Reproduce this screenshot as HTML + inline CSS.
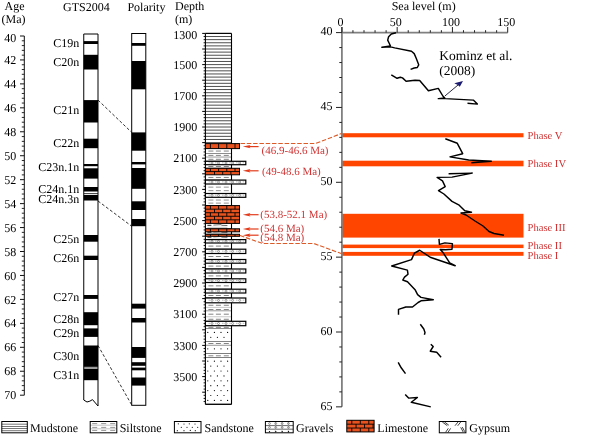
<!DOCTYPE html>
<html><head><meta charset="utf-8"><title>Eocene sea level and lithology figure</title>
<style>
html,body{margin:0;padding:0;background:#fff;}
body{width:600px;height:445px;overflow:hidden;}
svg{display:block;font-family:"Liberation Serif",serif;text-rendering:geometricPrecision;-webkit-font-smoothing:antialiased;will-change:transform;}
</style></head>
<body>
<svg width="600" height="445" viewBox="0 0 600 445">
<rect x="0" y="0" width="600" height="445" fill="#fff"/>
<text x="4.5" y="9.5" font-size="12" text-anchor="start" fill="#000">Age</text>
<text x="1.5" y="22.5" font-size="12" text-anchor="start" fill="#000">(Ma)</text>
<text x="63" y="10.5" font-size="12" text-anchor="start" fill="#000">GTS2004</text>
<text x="127.4" y="10.5" font-size="12" text-anchor="start" fill="#000">Polarity</text>
<text x="175" y="9.5" font-size="12" text-anchor="start" fill="#000">Depth</text>
<text x="175" y="22.5" font-size="12" text-anchor="start" fill="#000">(m)</text>
<text x="391.7" y="9.6" font-size="12" text-anchor="start" fill="#000">Sea level (m)</text>
<line x1="24.3" y1="36" x2="24.3" y2="395.19" stroke="#111" stroke-width="1"/>
<line x1="20" y1="36" x2="24.3" y2="36" stroke="#111" stroke-width="1"/>
<line x1="21.8" y1="40.79" x2="24.3" y2="40.79" stroke="#111" stroke-width="0.9"/>
<line x1="21.8" y1="45.58" x2="24.3" y2="45.58" stroke="#111" stroke-width="0.9"/>
<line x1="21.8" y1="50.37" x2="24.3" y2="50.37" stroke="#111" stroke-width="0.9"/>
<line x1="21.8" y1="55.16" x2="24.3" y2="55.16" stroke="#111" stroke-width="0.9"/>
<line x1="20" y1="59.95" x2="24.3" y2="59.95" stroke="#111" stroke-width="1"/>
<line x1="21.8" y1="64.74" x2="24.3" y2="64.74" stroke="#111" stroke-width="0.9"/>
<line x1="21.8" y1="69.52" x2="24.3" y2="69.52" stroke="#111" stroke-width="0.9"/>
<line x1="21.8" y1="74.31" x2="24.3" y2="74.31" stroke="#111" stroke-width="0.9"/>
<line x1="21.8" y1="79.1" x2="24.3" y2="79.1" stroke="#111" stroke-width="0.9"/>
<line x1="20" y1="83.89" x2="24.3" y2="83.89" stroke="#111" stroke-width="1"/>
<line x1="21.8" y1="88.68" x2="24.3" y2="88.68" stroke="#111" stroke-width="0.9"/>
<line x1="21.8" y1="93.47" x2="24.3" y2="93.47" stroke="#111" stroke-width="0.9"/>
<line x1="21.8" y1="98.26" x2="24.3" y2="98.26" stroke="#111" stroke-width="0.9"/>
<line x1="21.8" y1="103.05" x2="24.3" y2="103.05" stroke="#111" stroke-width="0.9"/>
<line x1="20" y1="107.84" x2="24.3" y2="107.84" stroke="#111" stroke-width="1"/>
<line x1="21.8" y1="112.63" x2="24.3" y2="112.63" stroke="#111" stroke-width="0.9"/>
<line x1="21.8" y1="117.42" x2="24.3" y2="117.42" stroke="#111" stroke-width="0.9"/>
<line x1="21.8" y1="122.21" x2="24.3" y2="122.21" stroke="#111" stroke-width="0.9"/>
<line x1="21.8" y1="126.99" x2="24.3" y2="126.99" stroke="#111" stroke-width="0.9"/>
<line x1="20" y1="131.78" x2="24.3" y2="131.78" stroke="#111" stroke-width="1"/>
<line x1="21.8" y1="136.57" x2="24.3" y2="136.57" stroke="#111" stroke-width="0.9"/>
<line x1="21.8" y1="141.36" x2="24.3" y2="141.36" stroke="#111" stroke-width="0.9"/>
<line x1="21.8" y1="146.15" x2="24.3" y2="146.15" stroke="#111" stroke-width="0.9"/>
<line x1="21.8" y1="150.94" x2="24.3" y2="150.94" stroke="#111" stroke-width="0.9"/>
<line x1="20" y1="155.73" x2="24.3" y2="155.73" stroke="#111" stroke-width="1"/>
<line x1="21.8" y1="160.52" x2="24.3" y2="160.52" stroke="#111" stroke-width="0.9"/>
<line x1="21.8" y1="165.31" x2="24.3" y2="165.31" stroke="#111" stroke-width="0.9"/>
<line x1="21.8" y1="170.1" x2="24.3" y2="170.1" stroke="#111" stroke-width="0.9"/>
<line x1="21.8" y1="174.89" x2="24.3" y2="174.89" stroke="#111" stroke-width="0.9"/>
<line x1="20" y1="179.68" x2="24.3" y2="179.68" stroke="#111" stroke-width="1"/>
<line x1="21.8" y1="184.47" x2="24.3" y2="184.47" stroke="#111" stroke-width="0.9"/>
<line x1="21.8" y1="189.25" x2="24.3" y2="189.25" stroke="#111" stroke-width="0.9"/>
<line x1="21.8" y1="194.04" x2="24.3" y2="194.04" stroke="#111" stroke-width="0.9"/>
<line x1="21.8" y1="198.83" x2="24.3" y2="198.83" stroke="#111" stroke-width="0.9"/>
<line x1="20" y1="203.62" x2="24.3" y2="203.62" stroke="#111" stroke-width="1"/>
<line x1="21.8" y1="208.41" x2="24.3" y2="208.41" stroke="#111" stroke-width="0.9"/>
<line x1="21.8" y1="213.2" x2="24.3" y2="213.2" stroke="#111" stroke-width="0.9"/>
<line x1="21.8" y1="217.99" x2="24.3" y2="217.99" stroke="#111" stroke-width="0.9"/>
<line x1="21.8" y1="222.78" x2="24.3" y2="222.78" stroke="#111" stroke-width="0.9"/>
<line x1="20" y1="227.57" x2="24.3" y2="227.57" stroke="#111" stroke-width="1"/>
<line x1="21.8" y1="232.36" x2="24.3" y2="232.36" stroke="#111" stroke-width="0.9"/>
<line x1="21.8" y1="237.15" x2="24.3" y2="237.15" stroke="#111" stroke-width="0.9"/>
<line x1="21.8" y1="241.94" x2="24.3" y2="241.94" stroke="#111" stroke-width="0.9"/>
<line x1="21.8" y1="246.72" x2="24.3" y2="246.72" stroke="#111" stroke-width="0.9"/>
<line x1="20" y1="251.51" x2="24.3" y2="251.51" stroke="#111" stroke-width="1"/>
<line x1="21.8" y1="256.3" x2="24.3" y2="256.3" stroke="#111" stroke-width="0.9"/>
<line x1="21.8" y1="261.09" x2="24.3" y2="261.09" stroke="#111" stroke-width="0.9"/>
<line x1="21.8" y1="265.88" x2="24.3" y2="265.88" stroke="#111" stroke-width="0.9"/>
<line x1="21.8" y1="270.67" x2="24.3" y2="270.67" stroke="#111" stroke-width="0.9"/>
<line x1="20" y1="275.46" x2="24.3" y2="275.46" stroke="#111" stroke-width="1"/>
<line x1="21.8" y1="280.25" x2="24.3" y2="280.25" stroke="#111" stroke-width="0.9"/>
<line x1="21.8" y1="285.04" x2="24.3" y2="285.04" stroke="#111" stroke-width="0.9"/>
<line x1="21.8" y1="289.83" x2="24.3" y2="289.83" stroke="#111" stroke-width="0.9"/>
<line x1="21.8" y1="294.62" x2="24.3" y2="294.62" stroke="#111" stroke-width="0.9"/>
<line x1="20" y1="299.41" x2="24.3" y2="299.41" stroke="#111" stroke-width="1"/>
<line x1="21.8" y1="304.2" x2="24.3" y2="304.2" stroke="#111" stroke-width="0.9"/>
<line x1="21.8" y1="308.98" x2="24.3" y2="308.98" stroke="#111" stroke-width="0.9"/>
<line x1="21.8" y1="313.77" x2="24.3" y2="313.77" stroke="#111" stroke-width="0.9"/>
<line x1="21.8" y1="318.56" x2="24.3" y2="318.56" stroke="#111" stroke-width="0.9"/>
<line x1="20" y1="323.35" x2="24.3" y2="323.35" stroke="#111" stroke-width="1"/>
<line x1="21.8" y1="328.14" x2="24.3" y2="328.14" stroke="#111" stroke-width="0.9"/>
<line x1="21.8" y1="332.93" x2="24.3" y2="332.93" stroke="#111" stroke-width="0.9"/>
<line x1="21.8" y1="337.72" x2="24.3" y2="337.72" stroke="#111" stroke-width="0.9"/>
<line x1="21.8" y1="342.51" x2="24.3" y2="342.51" stroke="#111" stroke-width="0.9"/>
<line x1="20" y1="347.3" x2="24.3" y2="347.3" stroke="#111" stroke-width="1"/>
<line x1="21.8" y1="352.09" x2="24.3" y2="352.09" stroke="#111" stroke-width="0.9"/>
<line x1="21.8" y1="356.88" x2="24.3" y2="356.88" stroke="#111" stroke-width="0.9"/>
<line x1="21.8" y1="361.67" x2="24.3" y2="361.67" stroke="#111" stroke-width="0.9"/>
<line x1="21.8" y1="366.45" x2="24.3" y2="366.45" stroke="#111" stroke-width="0.9"/>
<line x1="20" y1="371.24" x2="24.3" y2="371.24" stroke="#111" stroke-width="1"/>
<line x1="21.8" y1="376.03" x2="24.3" y2="376.03" stroke="#111" stroke-width="0.9"/>
<line x1="21.8" y1="380.82" x2="24.3" y2="380.82" stroke="#111" stroke-width="0.9"/>
<line x1="21.8" y1="385.61" x2="24.3" y2="385.61" stroke="#111" stroke-width="0.9"/>
<line x1="21.8" y1="390.4" x2="24.3" y2="390.4" stroke="#111" stroke-width="0.9"/>
<line x1="20" y1="395.19" x2="24.3" y2="395.19" stroke="#111" stroke-width="1"/>
<text x="16.3" y="41.6" font-size="12" text-anchor="end" fill="#000">40</text>
<text x="16.3" y="64.05" font-size="12" text-anchor="end" fill="#000">42</text>
<text x="16.3" y="87.99" font-size="12" text-anchor="end" fill="#000">44</text>
<text x="16.3" y="111.94" font-size="12" text-anchor="end" fill="#000">46</text>
<text x="16.3" y="135.88" font-size="12" text-anchor="end" fill="#000">48</text>
<text x="16.3" y="159.83" font-size="12" text-anchor="end" fill="#000">50</text>
<text x="16.3" y="183.78" font-size="12" text-anchor="end" fill="#000">52</text>
<text x="16.3" y="207.72" font-size="12" text-anchor="end" fill="#000">54</text>
<text x="16.3" y="231.67" font-size="12" text-anchor="end" fill="#000">56</text>
<text x="16.3" y="255.61" font-size="12" text-anchor="end" fill="#000">58</text>
<text x="16.3" y="279.56" font-size="12" text-anchor="end" fill="#000">60</text>
<text x="16.3" y="303.51" font-size="12" text-anchor="end" fill="#000">62</text>
<text x="16.3" y="327.45" font-size="12" text-anchor="end" fill="#000">64</text>
<text x="16.3" y="351.4" font-size="12" text-anchor="end" fill="#000">66</text>
<text x="16.3" y="375.34" font-size="12" text-anchor="end" fill="#000">68</text>
<text x="16.3" y="399.29" font-size="12" text-anchor="end" fill="#000">70</text>
<rect x="83.75" y="41.1" width="14.25" height="2.9" fill="#000"/>
<rect x="83.75" y="54.8" width="14.25" height="14.7" fill="#000"/>
<rect x="83.75" y="100.1" width="14.25" height="22.4" fill="#000"/>
<rect x="83.75" y="138.7" width="14.25" height="9.5" fill="#000"/>
<rect x="83.75" y="164" width="14.25" height="2.2" fill="#000"/>
<rect x="83.75" y="168.3" width="14.25" height="10.3" fill="#000"/>
<rect x="83.75" y="187" width="14.25" height="4.5" fill="#000"/>
<rect x="83.75" y="193.2" width="14.25" height="0.7" fill="#000"/>
<rect x="83.75" y="194.9" width="14.25" height="5.6" fill="#000"/>
<rect x="83.75" y="235" width="14.25" height="6.7" fill="#000"/>
<rect x="83.75" y="255.7" width="14.25" height="4.3" fill="#000"/>
<rect x="83.75" y="295" width="14.25" height="3.9" fill="#000"/>
<rect x="83.75" y="312.2" width="14.25" height="13" fill="#000"/>
<rect x="83.75" y="328.4" width="14.25" height="8.5" fill="#000"/>
<rect x="83.75" y="345.5" width="14.25" height="21.4" fill="#000"/>
<rect x="83.75" y="368.9" width="14.25" height="11.3" fill="#000"/>
<rect x="83.75" y="366.9" width="14.25" height="2" fill="#999"/>
<path d="M83.75,400 L83.75,34 L98,34 L98,406 L92.5,399.6 Q90,401.5 87,402 L83.75,400" fill="none" stroke="#000" stroke-width="1"/>
<rect x="131.7" y="43" width="14.1" height="2.8" fill="#000"/>
<rect x="131.7" y="61" width="14.1" height="28.3" fill="#000"/>
<rect x="131.7" y="132.4" width="14.1" height="18.3" fill="#000"/>
<rect x="131.7" y="162" width="14.1" height="2.4" fill="#000"/>
<rect x="131.7" y="168" width="14.1" height="20.8" fill="#000"/>
<rect x="131.7" y="201.3" width="14.1" height="8.7" fill="#000"/>
<rect x="131.7" y="219" width="14.1" height="7.2" fill="#000"/>
<rect x="131.7" y="303.7" width="14.1" height="4.9" fill="#000"/>
<rect x="131.7" y="318" width="14.1" height="4.5" fill="#000"/>
<rect x="131.7" y="347" width="14.1" height="10.9" fill="#000"/>
<rect x="131.7" y="362.2" width="14.1" height="3.6" fill="#000"/>
<rect x="131.7" y="367.6" width="14.1" height="2.7" fill="#000"/>
<rect x="131.7" y="377.5" width="14.1" height="8.1" fill="#000"/>
<rect x="131.7" y="33.5" width="14.1" height="371.8" fill="none" stroke="#000" stroke-width="1"/>
<line x1="98" y1="100.1" x2="131.7" y2="132.4" stroke="#000" stroke-width="0.8" stroke-dasharray="3,2"/>
<line x1="98" y1="201" x2="131.7" y2="226.2" stroke="#000" stroke-width="0.8" stroke-dasharray="3,2"/>
<line x1="98" y1="345.5" x2="131.7" y2="405" stroke="#000" stroke-width="0.8" stroke-dasharray="3,2"/>
<text x="79.2" y="47" font-size="12" text-anchor="end" fill="#000">C19n</text>
<text x="79.2" y="66.4" font-size="12" text-anchor="end" fill="#000">C20n</text>
<text x="79.2" y="113.8" font-size="12" text-anchor="end" fill="#000">C21n</text>
<text x="79.2" y="147.2" font-size="12" text-anchor="end" fill="#000">C22n</text>
<text x="79.2" y="170.5" font-size="12" text-anchor="end" fill="#000">C23n.1n</text>
<text x="79.2" y="192.8" font-size="12" text-anchor="end" fill="#000">C24n.1n</text>
<text x="79.2" y="203.3" font-size="12" text-anchor="end" fill="#000">C24n.3n</text>
<text x="79.2" y="242.5" font-size="12" text-anchor="end" fill="#000">C25n</text>
<text x="79.2" y="262.1" font-size="12" text-anchor="end" fill="#000">C26n</text>
<text x="79.2" y="300.9" font-size="12" text-anchor="end" fill="#000">C27n</text>
<text x="79.2" y="323.1" font-size="12" text-anchor="end" fill="#000">C28n</text>
<text x="79.2" y="337.3" font-size="12" text-anchor="end" fill="#000">C29n</text>
<text x="79.2" y="359.5" font-size="12" text-anchor="end" fill="#000">C30n</text>
<text x="79.2" y="379.4" font-size="12" text-anchor="end" fill="#000">C31n</text>
<line x1="202.2" y1="33.4" x2="205.4" y2="33.4" stroke="#000" stroke-width="1"/>
<line x1="203.6" y1="36.52" x2="205.4" y2="36.52" stroke="#000" stroke-width="0.9"/>
<line x1="203.6" y1="39.64" x2="205.4" y2="39.64" stroke="#000" stroke-width="0.9"/>
<line x1="203.6" y1="42.76" x2="205.4" y2="42.76" stroke="#000" stroke-width="0.9"/>
<line x1="203.6" y1="45.88" x2="205.4" y2="45.88" stroke="#000" stroke-width="0.9"/>
<line x1="202.2" y1="49" x2="205.4" y2="49" stroke="#000" stroke-width="1"/>
<line x1="203.6" y1="52.12" x2="205.4" y2="52.12" stroke="#000" stroke-width="0.9"/>
<line x1="203.6" y1="55.24" x2="205.4" y2="55.24" stroke="#000" stroke-width="0.9"/>
<line x1="203.6" y1="58.36" x2="205.4" y2="58.36" stroke="#000" stroke-width="0.9"/>
<line x1="203.6" y1="61.48" x2="205.4" y2="61.48" stroke="#000" stroke-width="0.9"/>
<line x1="202.2" y1="64.6" x2="205.4" y2="64.6" stroke="#000" stroke-width="1"/>
<line x1="203.6" y1="67.72" x2="205.4" y2="67.72" stroke="#000" stroke-width="0.9"/>
<line x1="203.6" y1="70.84" x2="205.4" y2="70.84" stroke="#000" stroke-width="0.9"/>
<line x1="203.6" y1="73.96" x2="205.4" y2="73.96" stroke="#000" stroke-width="0.9"/>
<line x1="203.6" y1="77.08" x2="205.4" y2="77.08" stroke="#000" stroke-width="0.9"/>
<line x1="202.2" y1="80.2" x2="205.4" y2="80.2" stroke="#000" stroke-width="1"/>
<line x1="203.6" y1="83.32" x2="205.4" y2="83.32" stroke="#000" stroke-width="0.9"/>
<line x1="203.6" y1="86.44" x2="205.4" y2="86.44" stroke="#000" stroke-width="0.9"/>
<line x1="203.6" y1="89.56" x2="205.4" y2="89.56" stroke="#000" stroke-width="0.9"/>
<line x1="203.6" y1="92.68" x2="205.4" y2="92.68" stroke="#000" stroke-width="0.9"/>
<line x1="202.2" y1="95.8" x2="205.4" y2="95.8" stroke="#000" stroke-width="1"/>
<line x1="203.6" y1="98.92" x2="205.4" y2="98.92" stroke="#000" stroke-width="0.9"/>
<line x1="203.6" y1="102.04" x2="205.4" y2="102.04" stroke="#000" stroke-width="0.9"/>
<line x1="203.6" y1="105.16" x2="205.4" y2="105.16" stroke="#000" stroke-width="0.9"/>
<line x1="203.6" y1="108.28" x2="205.4" y2="108.28" stroke="#000" stroke-width="0.9"/>
<line x1="202.2" y1="111.4" x2="205.4" y2="111.4" stroke="#000" stroke-width="1"/>
<line x1="203.6" y1="114.52" x2="205.4" y2="114.52" stroke="#000" stroke-width="0.9"/>
<line x1="203.6" y1="117.64" x2="205.4" y2="117.64" stroke="#000" stroke-width="0.9"/>
<line x1="203.6" y1="120.76" x2="205.4" y2="120.76" stroke="#000" stroke-width="0.9"/>
<line x1="203.6" y1="123.88" x2="205.4" y2="123.88" stroke="#000" stroke-width="0.9"/>
<line x1="202.2" y1="127" x2="205.4" y2="127" stroke="#000" stroke-width="1"/>
<line x1="203.6" y1="130.12" x2="205.4" y2="130.12" stroke="#000" stroke-width="0.9"/>
<line x1="203.6" y1="133.24" x2="205.4" y2="133.24" stroke="#000" stroke-width="0.9"/>
<line x1="203.6" y1="136.36" x2="205.4" y2="136.36" stroke="#000" stroke-width="0.9"/>
<line x1="203.6" y1="139.48" x2="205.4" y2="139.48" stroke="#000" stroke-width="0.9"/>
<line x1="202.2" y1="142.6" x2="205.4" y2="142.6" stroke="#000" stroke-width="1"/>
<line x1="203.6" y1="145.72" x2="205.4" y2="145.72" stroke="#000" stroke-width="0.9"/>
<line x1="203.6" y1="148.84" x2="205.4" y2="148.84" stroke="#000" stroke-width="0.9"/>
<line x1="203.6" y1="151.96" x2="205.4" y2="151.96" stroke="#000" stroke-width="0.9"/>
<line x1="203.6" y1="155.08" x2="205.4" y2="155.08" stroke="#000" stroke-width="0.9"/>
<line x1="202.2" y1="158.2" x2="205.4" y2="158.2" stroke="#000" stroke-width="1"/>
<line x1="203.6" y1="161.32" x2="205.4" y2="161.32" stroke="#000" stroke-width="0.9"/>
<line x1="203.6" y1="164.44" x2="205.4" y2="164.44" stroke="#000" stroke-width="0.9"/>
<line x1="203.6" y1="167.56" x2="205.4" y2="167.56" stroke="#000" stroke-width="0.9"/>
<line x1="203.6" y1="170.68" x2="205.4" y2="170.68" stroke="#000" stroke-width="0.9"/>
<line x1="202.2" y1="173.8" x2="205.4" y2="173.8" stroke="#000" stroke-width="1"/>
<line x1="203.6" y1="176.92" x2="205.4" y2="176.92" stroke="#000" stroke-width="0.9"/>
<line x1="203.6" y1="180.04" x2="205.4" y2="180.04" stroke="#000" stroke-width="0.9"/>
<line x1="203.6" y1="183.16" x2="205.4" y2="183.16" stroke="#000" stroke-width="0.9"/>
<line x1="203.6" y1="186.28" x2="205.4" y2="186.28" stroke="#000" stroke-width="0.9"/>
<line x1="202.2" y1="189.4" x2="205.4" y2="189.4" stroke="#000" stroke-width="1"/>
<line x1="203.6" y1="192.52" x2="205.4" y2="192.52" stroke="#000" stroke-width="0.9"/>
<line x1="203.6" y1="195.64" x2="205.4" y2="195.64" stroke="#000" stroke-width="0.9"/>
<line x1="203.6" y1="198.76" x2="205.4" y2="198.76" stroke="#000" stroke-width="0.9"/>
<line x1="203.6" y1="201.88" x2="205.4" y2="201.88" stroke="#000" stroke-width="0.9"/>
<line x1="202.2" y1="205" x2="205.4" y2="205" stroke="#000" stroke-width="1"/>
<line x1="203.6" y1="208.12" x2="205.4" y2="208.12" stroke="#000" stroke-width="0.9"/>
<line x1="203.6" y1="211.24" x2="205.4" y2="211.24" stroke="#000" stroke-width="0.9"/>
<line x1="203.6" y1="214.36" x2="205.4" y2="214.36" stroke="#000" stroke-width="0.9"/>
<line x1="203.6" y1="217.48" x2="205.4" y2="217.48" stroke="#000" stroke-width="0.9"/>
<line x1="202.2" y1="220.6" x2="205.4" y2="220.6" stroke="#000" stroke-width="1"/>
<line x1="203.6" y1="223.72" x2="205.4" y2="223.72" stroke="#000" stroke-width="0.9"/>
<line x1="203.6" y1="226.84" x2="205.4" y2="226.84" stroke="#000" stroke-width="0.9"/>
<line x1="203.6" y1="229.96" x2="205.4" y2="229.96" stroke="#000" stroke-width="0.9"/>
<line x1="203.6" y1="233.08" x2="205.4" y2="233.08" stroke="#000" stroke-width="0.9"/>
<line x1="202.2" y1="236.2" x2="205.4" y2="236.2" stroke="#000" stroke-width="1"/>
<line x1="203.6" y1="239.32" x2="205.4" y2="239.32" stroke="#000" stroke-width="0.9"/>
<line x1="203.6" y1="242.44" x2="205.4" y2="242.44" stroke="#000" stroke-width="0.9"/>
<line x1="203.6" y1="245.56" x2="205.4" y2="245.56" stroke="#000" stroke-width="0.9"/>
<line x1="203.6" y1="248.68" x2="205.4" y2="248.68" stroke="#000" stroke-width="0.9"/>
<line x1="202.2" y1="251.8" x2="205.4" y2="251.8" stroke="#000" stroke-width="1"/>
<line x1="203.6" y1="254.92" x2="205.4" y2="254.92" stroke="#000" stroke-width="0.9"/>
<line x1="203.6" y1="258.04" x2="205.4" y2="258.04" stroke="#000" stroke-width="0.9"/>
<line x1="203.6" y1="261.16" x2="205.4" y2="261.16" stroke="#000" stroke-width="0.9"/>
<line x1="203.6" y1="264.28" x2="205.4" y2="264.28" stroke="#000" stroke-width="0.9"/>
<line x1="202.2" y1="267.4" x2="205.4" y2="267.4" stroke="#000" stroke-width="1"/>
<line x1="203.6" y1="270.52" x2="205.4" y2="270.52" stroke="#000" stroke-width="0.9"/>
<line x1="203.6" y1="273.64" x2="205.4" y2="273.64" stroke="#000" stroke-width="0.9"/>
<line x1="203.6" y1="276.76" x2="205.4" y2="276.76" stroke="#000" stroke-width="0.9"/>
<line x1="203.6" y1="279.88" x2="205.4" y2="279.88" stroke="#000" stroke-width="0.9"/>
<line x1="202.2" y1="283" x2="205.4" y2="283" stroke="#000" stroke-width="1"/>
<line x1="203.6" y1="286.12" x2="205.4" y2="286.12" stroke="#000" stroke-width="0.9"/>
<line x1="203.6" y1="289.24" x2="205.4" y2="289.24" stroke="#000" stroke-width="0.9"/>
<line x1="203.6" y1="292.36" x2="205.4" y2="292.36" stroke="#000" stroke-width="0.9"/>
<line x1="203.6" y1="295.48" x2="205.4" y2="295.48" stroke="#000" stroke-width="0.9"/>
<line x1="202.2" y1="298.6" x2="205.4" y2="298.6" stroke="#000" stroke-width="1"/>
<line x1="203.6" y1="301.72" x2="205.4" y2="301.72" stroke="#000" stroke-width="0.9"/>
<line x1="203.6" y1="304.84" x2="205.4" y2="304.84" stroke="#000" stroke-width="0.9"/>
<line x1="203.6" y1="307.96" x2="205.4" y2="307.96" stroke="#000" stroke-width="0.9"/>
<line x1="203.6" y1="311.08" x2="205.4" y2="311.08" stroke="#000" stroke-width="0.9"/>
<line x1="202.2" y1="314.2" x2="205.4" y2="314.2" stroke="#000" stroke-width="1"/>
<line x1="203.6" y1="317.32" x2="205.4" y2="317.32" stroke="#000" stroke-width="0.9"/>
<line x1="203.6" y1="320.44" x2="205.4" y2="320.44" stroke="#000" stroke-width="0.9"/>
<line x1="203.6" y1="323.56" x2="205.4" y2="323.56" stroke="#000" stroke-width="0.9"/>
<line x1="203.6" y1="326.68" x2="205.4" y2="326.68" stroke="#000" stroke-width="0.9"/>
<line x1="202.2" y1="329.8" x2="205.4" y2="329.8" stroke="#000" stroke-width="1"/>
<line x1="203.6" y1="332.92" x2="205.4" y2="332.92" stroke="#000" stroke-width="0.9"/>
<line x1="203.6" y1="336.04" x2="205.4" y2="336.04" stroke="#000" stroke-width="0.9"/>
<line x1="203.6" y1="339.16" x2="205.4" y2="339.16" stroke="#000" stroke-width="0.9"/>
<line x1="203.6" y1="342.28" x2="205.4" y2="342.28" stroke="#000" stroke-width="0.9"/>
<line x1="202.2" y1="345.4" x2="205.4" y2="345.4" stroke="#000" stroke-width="1"/>
<line x1="203.6" y1="348.52" x2="205.4" y2="348.52" stroke="#000" stroke-width="0.9"/>
<line x1="203.6" y1="351.64" x2="205.4" y2="351.64" stroke="#000" stroke-width="0.9"/>
<line x1="203.6" y1="354.76" x2="205.4" y2="354.76" stroke="#000" stroke-width="0.9"/>
<line x1="203.6" y1="357.88" x2="205.4" y2="357.88" stroke="#000" stroke-width="0.9"/>
<line x1="202.2" y1="361" x2="205.4" y2="361" stroke="#000" stroke-width="1"/>
<line x1="203.6" y1="364.12" x2="205.4" y2="364.12" stroke="#000" stroke-width="0.9"/>
<line x1="203.6" y1="367.24" x2="205.4" y2="367.24" stroke="#000" stroke-width="0.9"/>
<line x1="203.6" y1="370.36" x2="205.4" y2="370.36" stroke="#000" stroke-width="0.9"/>
<line x1="203.6" y1="373.48" x2="205.4" y2="373.48" stroke="#000" stroke-width="0.9"/>
<line x1="202.2" y1="376.6" x2="205.4" y2="376.6" stroke="#000" stroke-width="1"/>
<line x1="203.6" y1="379.72" x2="205.4" y2="379.72" stroke="#000" stroke-width="0.9"/>
<line x1="203.6" y1="382.84" x2="205.4" y2="382.84" stroke="#000" stroke-width="0.9"/>
<line x1="203.6" y1="385.96" x2="205.4" y2="385.96" stroke="#000" stroke-width="0.9"/>
<line x1="203.6" y1="389.08" x2="205.4" y2="389.08" stroke="#000" stroke-width="0.9"/>
<line x1="202.2" y1="392.2" x2="205.4" y2="392.2" stroke="#000" stroke-width="1"/>
<line x1="203.6" y1="395.32" x2="205.4" y2="395.32" stroke="#000" stroke-width="0.9"/>
<line x1="203.6" y1="398.44" x2="205.4" y2="398.44" stroke="#000" stroke-width="0.9"/>
<line x1="203.6" y1="401.56" x2="205.4" y2="401.56" stroke="#000" stroke-width="0.9"/>
<text x="197.2" y="39.3" font-size="12" text-anchor="end" fill="#000">1300</text>
<text x="197.2" y="68.8" font-size="12" text-anchor="end" fill="#000">1500</text>
<text x="197.2" y="100" font-size="12" text-anchor="end" fill="#000">1700</text>
<text x="197.2" y="131.2" font-size="12" text-anchor="end" fill="#000">1900</text>
<text x="197.2" y="162.4" font-size="12" text-anchor="end" fill="#000">2100</text>
<text x="197.2" y="193.6" font-size="12" text-anchor="end" fill="#000">2300</text>
<text x="197.2" y="224.8" font-size="12" text-anchor="end" fill="#000">2500</text>
<text x="197.2" y="256" font-size="12" text-anchor="end" fill="#000">2700</text>
<text x="197.2" y="287.2" font-size="12" text-anchor="end" fill="#000">2900</text>
<text x="197.2" y="318.4" font-size="12" text-anchor="end" fill="#000">3100</text>
<text x="197.2" y="349.6" font-size="12" text-anchor="end" fill="#000">3300</text>
<text x="197.2" y="380.8" font-size="12" text-anchor="end" fill="#000">3500</text>
<rect x="205.4" y="33.4" width="26.1" height="109.9" fill="#fff"/>
<line x1="205.4" y1="33.4" x2="231.5" y2="33.4" stroke="#222" stroke-width="0.8"/>
<line x1="205.4" y1="36.52" x2="231.5" y2="36.52" stroke="#222" stroke-width="0.8"/>
<line x1="205.4" y1="39.64" x2="231.5" y2="39.64" stroke="#222" stroke-width="0.8"/>
<line x1="205.4" y1="42.76" x2="231.5" y2="42.76" stroke="#222" stroke-width="0.8"/>
<line x1="205.4" y1="45.88" x2="231.5" y2="45.88" stroke="#222" stroke-width="0.8"/>
<line x1="205.4" y1="49" x2="231.5" y2="49" stroke="#222" stroke-width="0.8"/>
<line x1="205.4" y1="52.12" x2="231.5" y2="52.12" stroke="#222" stroke-width="0.8"/>
<line x1="205.4" y1="55.24" x2="231.5" y2="55.24" stroke="#222" stroke-width="0.8"/>
<line x1="205.4" y1="58.36" x2="231.5" y2="58.36" stroke="#222" stroke-width="0.8"/>
<line x1="205.4" y1="61.48" x2="231.5" y2="61.48" stroke="#222" stroke-width="0.8"/>
<line x1="205.4" y1="64.6" x2="231.5" y2="64.6" stroke="#222" stroke-width="0.8"/>
<line x1="205.4" y1="67.72" x2="231.5" y2="67.72" stroke="#222" stroke-width="0.8"/>
<line x1="205.4" y1="70.84" x2="231.5" y2="70.84" stroke="#222" stroke-width="0.8"/>
<line x1="205.4" y1="73.96" x2="231.5" y2="73.96" stroke="#222" stroke-width="0.8"/>
<line x1="205.4" y1="77.08" x2="231.5" y2="77.08" stroke="#222" stroke-width="0.8"/>
<line x1="205.4" y1="80.2" x2="231.5" y2="80.2" stroke="#222" stroke-width="0.8"/>
<line x1="205.4" y1="83.32" x2="231.5" y2="83.32" stroke="#222" stroke-width="0.8"/>
<line x1="205.4" y1="86.44" x2="231.5" y2="86.44" stroke="#222" stroke-width="0.8"/>
<line x1="205.4" y1="89.56" x2="231.5" y2="89.56" stroke="#222" stroke-width="0.8"/>
<line x1="205.4" y1="92.68" x2="231.5" y2="92.68" stroke="#222" stroke-width="0.8"/>
<line x1="205.4" y1="95.8" x2="231.5" y2="95.8" stroke="#222" stroke-width="0.8"/>
<line x1="205.4" y1="98.92" x2="231.5" y2="98.92" stroke="#222" stroke-width="0.8"/>
<line x1="205.4" y1="102.04" x2="231.5" y2="102.04" stroke="#222" stroke-width="0.8"/>
<line x1="205.4" y1="105.16" x2="231.5" y2="105.16" stroke="#222" stroke-width="0.8"/>
<line x1="205.4" y1="108.28" x2="231.5" y2="108.28" stroke="#222" stroke-width="0.8"/>
<line x1="205.4" y1="111.4" x2="231.5" y2="111.4" stroke="#222" stroke-width="0.8"/>
<line x1="205.4" y1="114.52" x2="231.5" y2="114.52" stroke="#222" stroke-width="0.8"/>
<line x1="205.4" y1="117.64" x2="231.5" y2="117.64" stroke="#222" stroke-width="0.8"/>
<line x1="205.4" y1="120.76" x2="231.5" y2="120.76" stroke="#222" stroke-width="0.8"/>
<line x1="205.4" y1="123.88" x2="231.5" y2="123.88" stroke="#222" stroke-width="0.8"/>
<line x1="205.4" y1="127" x2="231.5" y2="127" stroke="#222" stroke-width="0.8"/>
<line x1="205.4" y1="130.12" x2="231.5" y2="130.12" stroke="#222" stroke-width="0.8"/>
<line x1="205.4" y1="133.24" x2="231.5" y2="133.24" stroke="#222" stroke-width="0.8"/>
<line x1="205.4" y1="136.36" x2="231.5" y2="136.36" stroke="#222" stroke-width="0.8"/>
<line x1="205.4" y1="139.48" x2="231.5" y2="139.48" stroke="#222" stroke-width="0.8"/>
<line x1="205.4" y1="142.6" x2="231.5" y2="142.6" stroke="#222" stroke-width="0.8"/>
<rect x="205.4" y="148.6" width="26.1" height="4.9" fill="#fff"/>
<line x1="208.4" y1="151.05" x2="213.4" y2="151.05" stroke="#777" stroke-width="0.9"/>
<line x1="215.9" y1="151.05" x2="220.9" y2="151.05" stroke="#777" stroke-width="0.9"/>
<line x1="223.8" y1="151.05" x2="228.8" y2="151.05" stroke="#777" stroke-width="0.9"/>
<line x1="205.4" y1="153.5" x2="231.5" y2="153.5" stroke="#000" stroke-width="0.9"/>
<rect x="205.4" y="153.5" width="26.1" height="3.8" fill="#fff"/>
<line x1="208.4" y1="155.4" x2="213.4" y2="155.4" stroke="#777" stroke-width="0.9"/>
<line x1="215.9" y1="155.4" x2="220.9" y2="155.4" stroke="#777" stroke-width="0.9"/>
<line x1="223.8" y1="155.4" x2="228.8" y2="155.4" stroke="#777" stroke-width="0.9"/>
<line x1="205.4" y1="157.3" x2="231.5" y2="157.3" stroke="#000" stroke-width="0.9"/>
<rect x="205.4" y="157.3" width="26.1" height="4" fill="#fff"/>
<line x1="208.4" y1="159.3" x2="213.4" y2="159.3" stroke="#777" stroke-width="0.9"/>
<line x1="215.9" y1="159.3" x2="220.9" y2="159.3" stroke="#777" stroke-width="0.9"/>
<line x1="223.8" y1="159.3" x2="228.8" y2="159.3" stroke="#777" stroke-width="0.9"/>
<line x1="205.4" y1="161.3" x2="231.5" y2="161.3" stroke="#000" stroke-width="0.9"/>
<rect x="205.4" y="164.7" width="26.1" height="3.6" fill="#fff"/>
<line x1="208.4" y1="166.5" x2="213.4" y2="166.5" stroke="#777" stroke-width="0.9"/>
<line x1="215.9" y1="166.5" x2="220.9" y2="166.5" stroke="#777" stroke-width="0.9"/>
<line x1="223.8" y1="166.5" x2="228.8" y2="166.5" stroke="#777" stroke-width="0.9"/>
<line x1="205.4" y1="168.3" x2="231.5" y2="168.3" stroke="#000" stroke-width="0.9"/>
<rect x="205.4" y="174.8" width="26.1" height="5.3" fill="#fff"/>
<line x1="208.4" y1="177.45" x2="213.4" y2="177.45" stroke="#777" stroke-width="0.9"/>
<line x1="215.9" y1="177.45" x2="220.9" y2="177.45" stroke="#777" stroke-width="0.9"/>
<line x1="223.8" y1="177.45" x2="228.8" y2="177.45" stroke="#777" stroke-width="0.9"/>
<line x1="205.4" y1="180.1" x2="231.5" y2="180.1" stroke="#000" stroke-width="0.9"/>
<rect x="205.4" y="184" width="26.1" height="9.5" fill="#fff"/>
<line x1="208.4" y1="187.13" x2="213.4" y2="187.13" stroke="#888" stroke-width="0.9"/>
<line x1="215.9" y1="187.13" x2="220.9" y2="187.13" stroke="#888" stroke-width="0.9"/>
<line x1="223.8" y1="187.13" x2="228.8" y2="187.13" stroke="#888" stroke-width="0.9"/>
<line x1="208.4" y1="190.65" x2="213.4" y2="190.65" stroke="#888" stroke-width="0.9"/>
<line x1="215.9" y1="190.65" x2="220.9" y2="190.65" stroke="#888" stroke-width="0.9"/>
<line x1="223.8" y1="190.65" x2="228.8" y2="190.65" stroke="#888" stroke-width="0.9"/>
<line x1="205.4" y1="193.5" x2="231.5" y2="193.5" stroke="#000" stroke-width="0.9"/>
<rect x="205.4" y="197.3" width="26.1" height="8.3" fill="#fff"/>
<line x1="208.4" y1="200.04" x2="213.4" y2="200.04" stroke="#888" stroke-width="0.9"/>
<line x1="215.9" y1="200.04" x2="220.9" y2="200.04" stroke="#888" stroke-width="0.9"/>
<line x1="223.8" y1="200.04" x2="228.8" y2="200.04" stroke="#888" stroke-width="0.9"/>
<line x1="208.4" y1="203.11" x2="213.4" y2="203.11" stroke="#888" stroke-width="0.9"/>
<line x1="215.9" y1="203.11" x2="220.9" y2="203.11" stroke="#888" stroke-width="0.9"/>
<line x1="223.8" y1="203.11" x2="228.8" y2="203.11" stroke="#888" stroke-width="0.9"/>
<line x1="205.4" y1="205.6" x2="231.5" y2="205.6" stroke="#000" stroke-width="0.9"/>
<rect x="205.4" y="223.4" width="26.1" height="5.4" fill="#fff"/>
<line x1="207.4" y1="225.3" x2="211.4" y2="225.3" stroke="#000" stroke-width="0.9"/>
<line x1="213.4" y1="225.1" x2="221.4" y2="224.6" stroke="#444" stroke-width="0.8"/>
<line x1="221.4" y1="225.3" x2="227.4" y2="225.5" stroke="#444" stroke-width="0.8"/>
<line x1="207.4" y1="227.3" x2="227.4" y2="227.3" stroke="#aaa" stroke-width="0.7"/>
<line x1="205.4" y1="228.8" x2="231.5" y2="228.8" stroke="#000" stroke-width="0.9"/>
<rect x="205.4" y="231.8" width="26.1" height="2.5" fill="#fff"/>
<line x1="207.4" y1="232.25" x2="211.4" y2="232.25" stroke="#000" stroke-width="0.9"/>
<line x1="213.4" y1="232.05" x2="221.4" y2="231.55" stroke="#444" stroke-width="0.8"/>
<line x1="221.4" y1="232.25" x2="227.4" y2="232.45" stroke="#444" stroke-width="0.8"/>
<line x1="207.4" y1="234.25" x2="227.4" y2="234.25" stroke="#aaa" stroke-width="0.7"/>
<line x1="205.4" y1="234.3" x2="231.5" y2="234.3" stroke="#000" stroke-width="0.9"/>
<rect x="205.4" y="236.3" width="26.1" height="3.3" fill="#fff"/>
<line x1="207.4" y1="237.15" x2="211.4" y2="237.15" stroke="#000" stroke-width="0.9"/>
<line x1="213.4" y1="236.95" x2="221.4" y2="236.45" stroke="#444" stroke-width="0.8"/>
<line x1="221.4" y1="237.15" x2="227.4" y2="237.35" stroke="#444" stroke-width="0.8"/>
<line x1="207.4" y1="239.15" x2="227.4" y2="239.15" stroke="#aaa" stroke-width="0.7"/>
<line x1="205.4" y1="239.6" x2="231.5" y2="239.6" stroke="#000" stroke-width="0.9"/>
<rect x="205.4" y="243" width="26.1" height="6.2" fill="#fff"/>
<line x1="208.4" y1="246.1" x2="213.4" y2="246.1" stroke="#777" stroke-width="0.9"/>
<line x1="215.9" y1="246.1" x2="220.9" y2="246.1" stroke="#777" stroke-width="0.9"/>
<line x1="223.8" y1="246.1" x2="228.8" y2="246.1" stroke="#777" stroke-width="0.9"/>
<line x1="205.4" y1="249.2" x2="231.5" y2="249.2" stroke="#000" stroke-width="0.9"/>
<rect x="205.4" y="253.5" width="26.1" height="6" fill="#fff"/>
<line x1="208.4" y1="256.5" x2="213.4" y2="256.5" stroke="#777" stroke-width="0.9"/>
<line x1="215.9" y1="256.5" x2="220.9" y2="256.5" stroke="#777" stroke-width="0.9"/>
<line x1="223.8" y1="256.5" x2="228.8" y2="256.5" stroke="#777" stroke-width="0.9"/>
<line x1="205.4" y1="259.5" x2="231.5" y2="259.5" stroke="#000" stroke-width="0.9"/>
<rect x="205.4" y="263.2" width="26.1" height="5.8" fill="#fff"/>
<line x1="208.4" y1="266.1" x2="213.4" y2="266.1" stroke="#777" stroke-width="0.9"/>
<line x1="215.9" y1="266.1" x2="220.9" y2="266.1" stroke="#777" stroke-width="0.9"/>
<line x1="223.8" y1="266.1" x2="228.8" y2="266.1" stroke="#777" stroke-width="0.9"/>
<line x1="205.4" y1="269" x2="231.5" y2="269" stroke="#000" stroke-width="0.9"/>
<rect x="205.4" y="273" width="26.1" height="5.8" fill="#fff"/>
<line x1="208.4" y1="275.9" x2="213.4" y2="275.9" stroke="#777" stroke-width="0.9"/>
<line x1="215.9" y1="275.9" x2="220.9" y2="275.9" stroke="#777" stroke-width="0.9"/>
<line x1="223.8" y1="275.9" x2="228.8" y2="275.9" stroke="#777" stroke-width="0.9"/>
<line x1="205.4" y1="278.8" x2="231.5" y2="278.8" stroke="#000" stroke-width="0.9"/>
<rect x="205.4" y="282.5" width="26.1" height="6.7" fill="#fff"/>
<line x1="208.4" y1="285.85" x2="213.4" y2="285.85" stroke="#777" stroke-width="0.9"/>
<line x1="215.9" y1="285.85" x2="220.9" y2="285.85" stroke="#777" stroke-width="0.9"/>
<line x1="223.8" y1="285.85" x2="228.8" y2="285.85" stroke="#777" stroke-width="0.9"/>
<line x1="205.4" y1="289.2" x2="231.5" y2="289.2" stroke="#000" stroke-width="0.9"/>
<rect x="205.4" y="293" width="26.1" height="5" fill="#fff"/>
<line x1="208.4" y1="295.5" x2="213.4" y2="295.5" stroke="#777" stroke-width="0.9"/>
<line x1="215.9" y1="295.5" x2="220.9" y2="295.5" stroke="#777" stroke-width="0.9"/>
<line x1="223.8" y1="295.5" x2="228.8" y2="295.5" stroke="#777" stroke-width="0.9"/>
<line x1="205.4" y1="298" x2="231.5" y2="298" stroke="#000" stroke-width="0.9"/>
<rect x="205.4" y="302.8" width="26.1" height="8.4" fill="#fff"/>
<line x1="208.4" y1="305.32" x2="213.4" y2="305.32" stroke="#999" stroke-width="1.2"/>
<line x1="215.9" y1="305.32" x2="220.9" y2="305.32" stroke="#999" stroke-width="1.2"/>
<line x1="223.8" y1="305.32" x2="228.8" y2="305.32" stroke="#999" stroke-width="1.2"/>
<line x1="205.4" y1="307.42" x2="231.5" y2="307.42" stroke="#bbb" stroke-width="0.8"/>
<line x1="208.4" y1="309.52" x2="213.4" y2="309.52" stroke="#777" stroke-width="0.9"/>
<line x1="215.9" y1="309.52" x2="220.9" y2="309.52" stroke="#777" stroke-width="0.9"/>
<line x1="223.8" y1="309.52" x2="228.8" y2="309.52" stroke="#777" stroke-width="0.9"/>
<line x1="205.4" y1="311.2" x2="231.5" y2="311.2" stroke="#000" stroke-width="0.9"/>
<rect x="205.4" y="311.2" width="26.1" height="10.1" fill="#fff"/>
<line x1="208.4" y1="314.23" x2="213.4" y2="314.23" stroke="#999" stroke-width="1.2"/>
<line x1="215.9" y1="314.23" x2="220.9" y2="314.23" stroke="#999" stroke-width="1.2"/>
<line x1="223.8" y1="314.23" x2="228.8" y2="314.23" stroke="#999" stroke-width="1.2"/>
<line x1="205.4" y1="316.75" x2="231.5" y2="316.75" stroke="#bbb" stroke-width="0.8"/>
<line x1="208.4" y1="319.28" x2="213.4" y2="319.28" stroke="#777" stroke-width="0.9"/>
<line x1="215.9" y1="319.28" x2="220.9" y2="319.28" stroke="#777" stroke-width="0.9"/>
<line x1="223.8" y1="319.28" x2="228.8" y2="319.28" stroke="#777" stroke-width="0.9"/>
<line x1="205.4" y1="321.3" x2="231.5" y2="321.3" stroke="#000" stroke-width="0.9"/>
<rect x="205.4" y="325.7" width="26.1" height="3.3" fill="#fff"/>
<line x1="208.4" y1="327.35" x2="213.4" y2="327.35" stroke="#777" stroke-width="0.9"/>
<line x1="215.9" y1="327.35" x2="220.9" y2="327.35" stroke="#777" stroke-width="0.9"/>
<line x1="223.8" y1="327.35" x2="228.8" y2="327.35" stroke="#777" stroke-width="0.9"/>
<line x1="205.4" y1="329" x2="231.5" y2="329" stroke="#000" stroke-width="0.9"/>
<rect x="205.4" y="329" width="26.1" height="12.6" fill="#fff"/>
<circle cx="207.8" cy="332.4" r="0.6" fill="#000"/>
<circle cx="214.4" cy="332.4" r="0.6" fill="#000"/>
<circle cx="221" cy="332.4" r="0.6" fill="#000"/>
<circle cx="227.6" cy="332.4" r="0.6" fill="#000"/>
<circle cx="210.8" cy="337.3" r="0.6" fill="#000"/>
<circle cx="217.4" cy="337.3" r="0.6" fill="#000"/>
<circle cx="224" cy="337.3" r="0.6" fill="#000"/>
<line x1="205.4" y1="341.6" x2="231.5" y2="341.6" stroke="#000" stroke-width="0.9"/>
<rect x="205.4" y="341.6" width="26.1" height="3.8" fill="#fff"/>
<line x1="208.4" y1="343.5" x2="213.4" y2="343.5" stroke="#777" stroke-width="0.9"/>
<line x1="215.9" y1="343.5" x2="220.9" y2="343.5" stroke="#777" stroke-width="0.9"/>
<line x1="223.8" y1="343.5" x2="228.8" y2="343.5" stroke="#777" stroke-width="0.9"/>
<line x1="205.4" y1="345.4" x2="231.5" y2="345.4" stroke="#000" stroke-width="0.9"/>
<rect x="205.4" y="345.4" width="26.1" height="8.4" fill="#fff"/>
<circle cx="207.8" cy="348.8" r="0.6" fill="#000"/>
<circle cx="214.4" cy="348.8" r="0.6" fill="#000"/>
<circle cx="221" cy="348.8" r="0.6" fill="#000"/>
<circle cx="227.6" cy="348.8" r="0.6" fill="#000"/>
<line x1="205.4" y1="353.8" x2="231.5" y2="353.8" stroke="#000" stroke-width="0.9"/>
<rect x="205.4" y="353.8" width="26.1" height="4" fill="#fff"/>
<line x1="208.4" y1="355.8" x2="213.4" y2="355.8" stroke="#777" stroke-width="0.9"/>
<line x1="215.9" y1="355.8" x2="220.9" y2="355.8" stroke="#777" stroke-width="0.9"/>
<line x1="223.8" y1="355.8" x2="228.8" y2="355.8" stroke="#777" stroke-width="0.9"/>
<line x1="205.4" y1="357.8" x2="231.5" y2="357.8" stroke="#000" stroke-width="0.9"/>
<rect x="205.4" y="357.8" width="26.1" height="46.5" fill="#fff"/>
<circle cx="207.8" cy="361.2" r="0.6" fill="#000"/>
<circle cx="214.4" cy="361.2" r="0.6" fill="#000"/>
<circle cx="221" cy="361.2" r="0.6" fill="#000"/>
<circle cx="227.6" cy="361.2" r="0.6" fill="#000"/>
<circle cx="210.8" cy="366.1" r="0.6" fill="#000"/>
<circle cx="217.4" cy="366.1" r="0.6" fill="#000"/>
<circle cx="224" cy="366.1" r="0.6" fill="#000"/>
<circle cx="207.8" cy="371" r="0.6" fill="#000"/>
<circle cx="214.4" cy="371" r="0.6" fill="#000"/>
<circle cx="221" cy="371" r="0.6" fill="#000"/>
<circle cx="227.6" cy="371" r="0.6" fill="#000"/>
<circle cx="210.8" cy="375.9" r="0.6" fill="#000"/>
<circle cx="217.4" cy="375.9" r="0.6" fill="#000"/>
<circle cx="224" cy="375.9" r="0.6" fill="#000"/>
<circle cx="207.8" cy="380.8" r="0.6" fill="#000"/>
<circle cx="214.4" cy="380.8" r="0.6" fill="#000"/>
<circle cx="221" cy="380.8" r="0.6" fill="#000"/>
<circle cx="227.6" cy="380.8" r="0.6" fill="#000"/>
<circle cx="210.8" cy="385.7" r="0.6" fill="#000"/>
<circle cx="217.4" cy="385.7" r="0.6" fill="#000"/>
<circle cx="224" cy="385.7" r="0.6" fill="#000"/>
<circle cx="207.8" cy="390.6" r="0.6" fill="#000"/>
<circle cx="214.4" cy="390.6" r="0.6" fill="#000"/>
<circle cx="221" cy="390.6" r="0.6" fill="#000"/>
<circle cx="227.6" cy="390.6" r="0.6" fill="#000"/>
<circle cx="210.8" cy="395.5" r="0.6" fill="#000"/>
<circle cx="217.4" cy="395.5" r="0.6" fill="#000"/>
<circle cx="224" cy="395.5" r="0.6" fill="#000"/>
<circle cx="207.8" cy="400.4" r="0.6" fill="#000"/>
<circle cx="214.4" cy="400.4" r="0.6" fill="#000"/>
<circle cx="221" cy="400.4" r="0.6" fill="#000"/>
<circle cx="227.6" cy="400.4" r="0.6" fill="#000"/>
<line x1="205.4" y1="404.3" x2="231.5" y2="404.3" stroke="#000" stroke-width="0.9"/>
<line x1="205.4" y1="33.4" x2="205.4" y2="404.3" stroke="#000" stroke-width="1.1"/>
<line x1="231.5" y1="33.4" x2="231.5" y2="404.3" stroke="#000" stroke-width="1.1"/>
<line x1="205.4" y1="33.4" x2="231.5" y2="33.4" stroke="#000" stroke-width="1.1"/>
<line x1="205.4" y1="404.3" x2="231.5" y2="404.3" stroke="#000" stroke-width="1.1"/>
<rect x="205.4" y="143.6" width="34.1" height="5" fill="#e8521e"/>
<line x1="210.4" y1="143.6" x2="210.4" y2="148.6" stroke="#000" stroke-width="0.9"/>
<line x1="218.6" y1="143.6" x2="218.6" y2="148.6" stroke="#000" stroke-width="0.9"/>
<line x1="226.8" y1="143.6" x2="226.8" y2="148.6" stroke="#000" stroke-width="0.9"/>
<line x1="235" y1="143.6" x2="235" y2="148.6" stroke="#000" stroke-width="0.9"/>
<rect x="205.4" y="143.6" width="34.1" height="5" fill="none" stroke="#000" stroke-width="1"/>
<rect x="205.4" y="161.3" width="40.4" height="3.4" fill="#fff"/>
<circle cx="212" cy="163" r="1" fill="none" stroke="#777" stroke-width="0.7"/>
<circle cx="218.5" cy="163" r="1" fill="none" stroke="#777" stroke-width="0.7"/>
<circle cx="226" cy="163" r="1" fill="none" stroke="#777" stroke-width="0.7"/>
<circle cx="232.6" cy="163" r="1" fill="none" stroke="#777" stroke-width="0.7"/>
<circle cx="239.7" cy="163" r="1" fill="none" stroke="#777" stroke-width="0.7"/>
<line x1="208.5" y1="162.8" x2="210.1" y2="162.8" stroke="#aaa" stroke-width="0.8"/>
<line x1="215" y1="162.8" x2="216.6" y2="162.8" stroke="#aaa" stroke-width="0.8"/>
<line x1="222" y1="162.8" x2="223.6" y2="162.8" stroke="#aaa" stroke-width="0.8"/>
<line x1="229.3" y1="162.8" x2="230.9" y2="162.8" stroke="#aaa" stroke-width="0.8"/>
<line x1="236" y1="162.8" x2="237.6" y2="162.8" stroke="#aaa" stroke-width="0.8"/>
<line x1="242.7" y1="162.8" x2="244.3" y2="162.8" stroke="#aaa" stroke-width="0.8"/>
<rect x="205.4" y="161.3" width="40.4" height="3.4" fill="none" stroke="#000" stroke-width="1.2"/>
<rect x="205.4" y="168.3" width="34.1" height="6.5" fill="#e8521e"/>
<line x1="205.4" y1="171.55" x2="239.5" y2="171.55" stroke="#000" stroke-width="0.9"/>
<line x1="210.4" y1="168.3" x2="210.4" y2="171.55" stroke="#000" stroke-width="0.9"/>
<line x1="218.6" y1="168.3" x2="218.6" y2="171.55" stroke="#000" stroke-width="0.9"/>
<line x1="226.8" y1="168.3" x2="226.8" y2="171.55" stroke="#000" stroke-width="0.9"/>
<line x1="235" y1="168.3" x2="235" y2="171.55" stroke="#000" stroke-width="0.9"/>
<line x1="214.5" y1="171.55" x2="214.5" y2="174.8" stroke="#000" stroke-width="0.9"/>
<line x1="222.7" y1="171.55" x2="222.7" y2="174.8" stroke="#000" stroke-width="0.9"/>
<line x1="230.9" y1="171.55" x2="230.9" y2="174.8" stroke="#000" stroke-width="0.9"/>
<rect x="205.4" y="168.3" width="34.1" height="6.5" fill="none" stroke="#000" stroke-width="1"/>
<rect x="205.4" y="180.1" width="40.4" height="3.9" fill="#fff"/>
<circle cx="212" cy="182.05" r="1" fill="none" stroke="#777" stroke-width="0.7"/>
<circle cx="218.5" cy="182.05" r="1" fill="none" stroke="#777" stroke-width="0.7"/>
<circle cx="226" cy="182.05" r="1" fill="none" stroke="#777" stroke-width="0.7"/>
<circle cx="232.6" cy="182.05" r="1" fill="none" stroke="#777" stroke-width="0.7"/>
<circle cx="239.7" cy="182.05" r="1" fill="none" stroke="#777" stroke-width="0.7"/>
<line x1="208.5" y1="181.85" x2="210.1" y2="181.85" stroke="#aaa" stroke-width="0.8"/>
<line x1="215" y1="181.85" x2="216.6" y2="181.85" stroke="#aaa" stroke-width="0.8"/>
<line x1="222" y1="181.85" x2="223.6" y2="181.85" stroke="#aaa" stroke-width="0.8"/>
<line x1="229.3" y1="181.85" x2="230.9" y2="181.85" stroke="#aaa" stroke-width="0.8"/>
<line x1="236" y1="181.85" x2="237.6" y2="181.85" stroke="#aaa" stroke-width="0.8"/>
<line x1="242.7" y1="181.85" x2="244.3" y2="181.85" stroke="#aaa" stroke-width="0.8"/>
<rect x="205.4" y="180.1" width="40.4" height="3.9" fill="none" stroke="#000" stroke-width="1.2"/>
<rect x="205.4" y="193.5" width="40.4" height="3.8" fill="#fff"/>
<circle cx="212" cy="195.4" r="1" fill="none" stroke="#777" stroke-width="0.7"/>
<circle cx="218.5" cy="195.4" r="1" fill="none" stroke="#777" stroke-width="0.7"/>
<circle cx="226" cy="195.4" r="1" fill="none" stroke="#777" stroke-width="0.7"/>
<circle cx="232.6" cy="195.4" r="1" fill="none" stroke="#777" stroke-width="0.7"/>
<circle cx="239.7" cy="195.4" r="1" fill="none" stroke="#777" stroke-width="0.7"/>
<line x1="208.5" y1="195.2" x2="210.1" y2="195.2" stroke="#aaa" stroke-width="0.8"/>
<line x1="215" y1="195.2" x2="216.6" y2="195.2" stroke="#aaa" stroke-width="0.8"/>
<line x1="222" y1="195.2" x2="223.6" y2="195.2" stroke="#aaa" stroke-width="0.8"/>
<line x1="229.3" y1="195.2" x2="230.9" y2="195.2" stroke="#aaa" stroke-width="0.8"/>
<line x1="236" y1="195.2" x2="237.6" y2="195.2" stroke="#aaa" stroke-width="0.8"/>
<line x1="242.7" y1="195.2" x2="244.3" y2="195.2" stroke="#aaa" stroke-width="0.8"/>
<rect x="205.4" y="193.5" width="40.4" height="3.8" fill="none" stroke="#000" stroke-width="1.2"/>
<rect x="205.4" y="205.6" width="34.1" height="17.8" fill="#e8521e"/>
<line x1="205.4" y1="209.16" x2="239.5" y2="209.16" stroke="#000" stroke-width="0.9"/>
<line x1="205.4" y1="212.72" x2="239.5" y2="212.72" stroke="#000" stroke-width="0.9"/>
<line x1="205.4" y1="216.28" x2="239.5" y2="216.28" stroke="#000" stroke-width="0.9"/>
<line x1="205.4" y1="219.84" x2="239.5" y2="219.84" stroke="#000" stroke-width="0.9"/>
<line x1="210.4" y1="205.6" x2="210.4" y2="209.16" stroke="#000" stroke-width="0.9"/>
<line x1="218.6" y1="205.6" x2="218.6" y2="209.16" stroke="#000" stroke-width="0.9"/>
<line x1="226.8" y1="205.6" x2="226.8" y2="209.16" stroke="#000" stroke-width="0.9"/>
<line x1="235" y1="205.6" x2="235" y2="209.16" stroke="#000" stroke-width="0.9"/>
<line x1="214.5" y1="209.16" x2="214.5" y2="212.72" stroke="#000" stroke-width="0.9"/>
<line x1="222.7" y1="209.16" x2="222.7" y2="212.72" stroke="#000" stroke-width="0.9"/>
<line x1="230.9" y1="209.16" x2="230.9" y2="212.72" stroke="#000" stroke-width="0.9"/>
<line x1="210.4" y1="212.72" x2="210.4" y2="216.28" stroke="#000" stroke-width="0.9"/>
<line x1="218.6" y1="212.72" x2="218.6" y2="216.28" stroke="#000" stroke-width="0.9"/>
<line x1="226.8" y1="212.72" x2="226.8" y2="216.28" stroke="#000" stroke-width="0.9"/>
<line x1="235" y1="212.72" x2="235" y2="216.28" stroke="#000" stroke-width="0.9"/>
<line x1="214.5" y1="216.28" x2="214.5" y2="219.84" stroke="#000" stroke-width="0.9"/>
<line x1="222.7" y1="216.28" x2="222.7" y2="219.84" stroke="#000" stroke-width="0.9"/>
<line x1="230.9" y1="216.28" x2="230.9" y2="219.84" stroke="#000" stroke-width="0.9"/>
<line x1="210.4" y1="219.84" x2="210.4" y2="223.4" stroke="#000" stroke-width="0.9"/>
<line x1="218.6" y1="219.84" x2="218.6" y2="223.4" stroke="#000" stroke-width="0.9"/>
<line x1="226.8" y1="219.84" x2="226.8" y2="223.4" stroke="#000" stroke-width="0.9"/>
<line x1="235" y1="219.84" x2="235" y2="223.4" stroke="#000" stroke-width="0.9"/>
<rect x="205.4" y="205.6" width="34.1" height="17.8" fill="none" stroke="#000" stroke-width="1"/>
<rect x="205.4" y="228.8" width="34.1" height="3" fill="#e8521e"/>
<line x1="210.4" y1="228.8" x2="210.4" y2="231.8" stroke="#000" stroke-width="0.9"/>
<line x1="218.6" y1="228.8" x2="218.6" y2="231.8" stroke="#000" stroke-width="0.9"/>
<line x1="226.8" y1="228.8" x2="226.8" y2="231.8" stroke="#000" stroke-width="0.9"/>
<line x1="235" y1="228.8" x2="235" y2="231.8" stroke="#000" stroke-width="0.9"/>
<rect x="205.4" y="228.8" width="34.1" height="3" fill="none" stroke="#000" stroke-width="1"/>
<rect x="205.4" y="234.3" width="34.1" height="2" fill="#e8521e"/>
<line x1="210.4" y1="234.3" x2="210.4" y2="236.3" stroke="#000" stroke-width="0.9"/>
<line x1="218.6" y1="234.3" x2="218.6" y2="236.3" stroke="#000" stroke-width="0.9"/>
<line x1="226.8" y1="234.3" x2="226.8" y2="236.3" stroke="#000" stroke-width="0.9"/>
<line x1="235" y1="234.3" x2="235" y2="236.3" stroke="#000" stroke-width="0.9"/>
<rect x="205.4" y="234.3" width="34.1" height="2" fill="none" stroke="#000" stroke-width="1"/>
<rect x="205.4" y="239.6" width="40.4" height="3.4" fill="#fff"/>
<circle cx="212" cy="241.3" r="1" fill="none" stroke="#777" stroke-width="0.7"/>
<circle cx="218.5" cy="241.3" r="1" fill="none" stroke="#777" stroke-width="0.7"/>
<circle cx="226" cy="241.3" r="1" fill="none" stroke="#777" stroke-width="0.7"/>
<circle cx="232.6" cy="241.3" r="1" fill="none" stroke="#777" stroke-width="0.7"/>
<circle cx="239.7" cy="241.3" r="1" fill="none" stroke="#777" stroke-width="0.7"/>
<line x1="208.5" y1="241.1" x2="210.1" y2="241.1" stroke="#aaa" stroke-width="0.8"/>
<line x1="215" y1="241.1" x2="216.6" y2="241.1" stroke="#aaa" stroke-width="0.8"/>
<line x1="222" y1="241.1" x2="223.6" y2="241.1" stroke="#aaa" stroke-width="0.8"/>
<line x1="229.3" y1="241.1" x2="230.9" y2="241.1" stroke="#aaa" stroke-width="0.8"/>
<line x1="236" y1="241.1" x2="237.6" y2="241.1" stroke="#aaa" stroke-width="0.8"/>
<line x1="242.7" y1="241.1" x2="244.3" y2="241.1" stroke="#aaa" stroke-width="0.8"/>
<rect x="205.4" y="239.6" width="40.4" height="3.4" fill="none" stroke="#000" stroke-width="1.2"/>
<rect x="205.4" y="249.2" width="40.4" height="4.3" fill="#fff"/>
<circle cx="212" cy="251.35" r="1" fill="none" stroke="#777" stroke-width="0.7"/>
<circle cx="218.5" cy="251.35" r="1" fill="none" stroke="#777" stroke-width="0.7"/>
<circle cx="226" cy="251.35" r="1" fill="none" stroke="#777" stroke-width="0.7"/>
<circle cx="232.6" cy="251.35" r="1" fill="none" stroke="#777" stroke-width="0.7"/>
<circle cx="239.7" cy="251.35" r="1" fill="none" stroke="#777" stroke-width="0.7"/>
<line x1="208.5" y1="251.15" x2="210.1" y2="251.15" stroke="#aaa" stroke-width="0.8"/>
<line x1="215" y1="251.15" x2="216.6" y2="251.15" stroke="#aaa" stroke-width="0.8"/>
<line x1="222" y1="251.15" x2="223.6" y2="251.15" stroke="#aaa" stroke-width="0.8"/>
<line x1="229.3" y1="251.15" x2="230.9" y2="251.15" stroke="#aaa" stroke-width="0.8"/>
<line x1="236" y1="251.15" x2="237.6" y2="251.15" stroke="#aaa" stroke-width="0.8"/>
<line x1="242.7" y1="251.15" x2="244.3" y2="251.15" stroke="#aaa" stroke-width="0.8"/>
<rect x="205.4" y="249.2" width="40.4" height="4.3" fill="none" stroke="#000" stroke-width="1.2"/>
<rect x="205.4" y="259.5" width="40.4" height="3.7" fill="#fff"/>
<circle cx="212" cy="261.35" r="1" fill="none" stroke="#777" stroke-width="0.7"/>
<circle cx="218.5" cy="261.35" r="1" fill="none" stroke="#777" stroke-width="0.7"/>
<circle cx="226" cy="261.35" r="1" fill="none" stroke="#777" stroke-width="0.7"/>
<circle cx="232.6" cy="261.35" r="1" fill="none" stroke="#777" stroke-width="0.7"/>
<circle cx="239.7" cy="261.35" r="1" fill="none" stroke="#777" stroke-width="0.7"/>
<line x1="208.5" y1="261.15" x2="210.1" y2="261.15" stroke="#aaa" stroke-width="0.8"/>
<line x1="215" y1="261.15" x2="216.6" y2="261.15" stroke="#aaa" stroke-width="0.8"/>
<line x1="222" y1="261.15" x2="223.6" y2="261.15" stroke="#aaa" stroke-width="0.8"/>
<line x1="229.3" y1="261.15" x2="230.9" y2="261.15" stroke="#aaa" stroke-width="0.8"/>
<line x1="236" y1="261.15" x2="237.6" y2="261.15" stroke="#aaa" stroke-width="0.8"/>
<line x1="242.7" y1="261.15" x2="244.3" y2="261.15" stroke="#aaa" stroke-width="0.8"/>
<rect x="205.4" y="259.5" width="40.4" height="3.7" fill="none" stroke="#000" stroke-width="1.2"/>
<rect x="205.4" y="269" width="40.4" height="4" fill="#fff"/>
<circle cx="212" cy="271" r="1" fill="none" stroke="#777" stroke-width="0.7"/>
<circle cx="218.5" cy="271" r="1" fill="none" stroke="#777" stroke-width="0.7"/>
<circle cx="226" cy="271" r="1" fill="none" stroke="#777" stroke-width="0.7"/>
<circle cx="232.6" cy="271" r="1" fill="none" stroke="#777" stroke-width="0.7"/>
<circle cx="239.7" cy="271" r="1" fill="none" stroke="#777" stroke-width="0.7"/>
<line x1="208.5" y1="270.8" x2="210.1" y2="270.8" stroke="#aaa" stroke-width="0.8"/>
<line x1="215" y1="270.8" x2="216.6" y2="270.8" stroke="#aaa" stroke-width="0.8"/>
<line x1="222" y1="270.8" x2="223.6" y2="270.8" stroke="#aaa" stroke-width="0.8"/>
<line x1="229.3" y1="270.8" x2="230.9" y2="270.8" stroke="#aaa" stroke-width="0.8"/>
<line x1="236" y1="270.8" x2="237.6" y2="270.8" stroke="#aaa" stroke-width="0.8"/>
<line x1="242.7" y1="270.8" x2="244.3" y2="270.8" stroke="#aaa" stroke-width="0.8"/>
<rect x="205.4" y="269" width="40.4" height="4" fill="none" stroke="#000" stroke-width="1.2"/>
<rect x="205.4" y="278.8" width="40.4" height="3.7" fill="#fff"/>
<circle cx="212" cy="280.65" r="1" fill="none" stroke="#777" stroke-width="0.7"/>
<circle cx="218.5" cy="280.65" r="1" fill="none" stroke="#777" stroke-width="0.7"/>
<circle cx="226" cy="280.65" r="1" fill="none" stroke="#777" stroke-width="0.7"/>
<circle cx="232.6" cy="280.65" r="1" fill="none" stroke="#777" stroke-width="0.7"/>
<circle cx="239.7" cy="280.65" r="1" fill="none" stroke="#777" stroke-width="0.7"/>
<line x1="208.5" y1="280.45" x2="210.1" y2="280.45" stroke="#aaa" stroke-width="0.8"/>
<line x1="215" y1="280.45" x2="216.6" y2="280.45" stroke="#aaa" stroke-width="0.8"/>
<line x1="222" y1="280.45" x2="223.6" y2="280.45" stroke="#aaa" stroke-width="0.8"/>
<line x1="229.3" y1="280.45" x2="230.9" y2="280.45" stroke="#aaa" stroke-width="0.8"/>
<line x1="236" y1="280.45" x2="237.6" y2="280.45" stroke="#aaa" stroke-width="0.8"/>
<line x1="242.7" y1="280.45" x2="244.3" y2="280.45" stroke="#aaa" stroke-width="0.8"/>
<rect x="205.4" y="278.8" width="40.4" height="3.7" fill="none" stroke="#000" stroke-width="1.2"/>
<rect x="205.4" y="289.2" width="40.4" height="3.8" fill="#fff"/>
<circle cx="212" cy="291.1" r="1" fill="none" stroke="#777" stroke-width="0.7"/>
<circle cx="218.5" cy="291.1" r="1" fill="none" stroke="#777" stroke-width="0.7"/>
<circle cx="226" cy="291.1" r="1" fill="none" stroke="#777" stroke-width="0.7"/>
<circle cx="232.6" cy="291.1" r="1" fill="none" stroke="#777" stroke-width="0.7"/>
<circle cx="239.7" cy="291.1" r="1" fill="none" stroke="#777" stroke-width="0.7"/>
<line x1="208.5" y1="290.9" x2="210.1" y2="290.9" stroke="#aaa" stroke-width="0.8"/>
<line x1="215" y1="290.9" x2="216.6" y2="290.9" stroke="#aaa" stroke-width="0.8"/>
<line x1="222" y1="290.9" x2="223.6" y2="290.9" stroke="#aaa" stroke-width="0.8"/>
<line x1="229.3" y1="290.9" x2="230.9" y2="290.9" stroke="#aaa" stroke-width="0.8"/>
<line x1="236" y1="290.9" x2="237.6" y2="290.9" stroke="#aaa" stroke-width="0.8"/>
<line x1="242.7" y1="290.9" x2="244.3" y2="290.9" stroke="#aaa" stroke-width="0.8"/>
<rect x="205.4" y="289.2" width="40.4" height="3.8" fill="none" stroke="#000" stroke-width="1.2"/>
<rect x="205.4" y="298" width="40.4" height="4.8" fill="#fff"/>
<circle cx="212" cy="300.4" r="1" fill="none" stroke="#777" stroke-width="0.7"/>
<circle cx="218.5" cy="300.4" r="1" fill="none" stroke="#777" stroke-width="0.7"/>
<circle cx="226" cy="300.4" r="1" fill="none" stroke="#777" stroke-width="0.7"/>
<circle cx="232.6" cy="300.4" r="1" fill="none" stroke="#777" stroke-width="0.7"/>
<circle cx="239.7" cy="300.4" r="1" fill="none" stroke="#777" stroke-width="0.7"/>
<line x1="208.5" y1="300.2" x2="210.1" y2="300.2" stroke="#aaa" stroke-width="0.8"/>
<line x1="215" y1="300.2" x2="216.6" y2="300.2" stroke="#aaa" stroke-width="0.8"/>
<line x1="222" y1="300.2" x2="223.6" y2="300.2" stroke="#aaa" stroke-width="0.8"/>
<line x1="229.3" y1="300.2" x2="230.9" y2="300.2" stroke="#aaa" stroke-width="0.8"/>
<line x1="236" y1="300.2" x2="237.6" y2="300.2" stroke="#aaa" stroke-width="0.8"/>
<line x1="242.7" y1="300.2" x2="244.3" y2="300.2" stroke="#aaa" stroke-width="0.8"/>
<rect x="205.4" y="298" width="40.4" height="4.8" fill="none" stroke="#000" stroke-width="1.2"/>
<rect x="205.4" y="321.3" width="40.4" height="4.4" fill="#fff"/>
<circle cx="212" cy="323.5" r="1" fill="none" stroke="#777" stroke-width="0.7"/>
<circle cx="218.5" cy="323.5" r="1" fill="none" stroke="#777" stroke-width="0.7"/>
<circle cx="226" cy="323.5" r="1" fill="none" stroke="#777" stroke-width="0.7"/>
<circle cx="232.6" cy="323.5" r="1" fill="none" stroke="#777" stroke-width="0.7"/>
<circle cx="239.7" cy="323.5" r="1" fill="none" stroke="#777" stroke-width="0.7"/>
<line x1="208.5" y1="323.3" x2="210.1" y2="323.3" stroke="#aaa" stroke-width="0.8"/>
<line x1="215" y1="323.3" x2="216.6" y2="323.3" stroke="#aaa" stroke-width="0.8"/>
<line x1="222" y1="323.3" x2="223.6" y2="323.3" stroke="#aaa" stroke-width="0.8"/>
<line x1="229.3" y1="323.3" x2="230.9" y2="323.3" stroke="#aaa" stroke-width="0.8"/>
<line x1="236" y1="323.3" x2="237.6" y2="323.3" stroke="#aaa" stroke-width="0.8"/>
<line x1="242.7" y1="323.3" x2="244.3" y2="323.3" stroke="#aaa" stroke-width="0.8"/>
<rect x="205.4" y="321.3" width="40.4" height="4.4" fill="none" stroke="#000" stroke-width="1.2"/>
<rect x="341.9" y="133.2" width="181.6" height="4.1" fill="#ff4500"/>
<rect x="341.9" y="160.7" width="181.6" height="5.6" fill="#ff4500"/>
<rect x="341.9" y="213.8" width="181.6" height="23.8" fill="#ff4500"/>
<rect x="341.9" y="244.6" width="181.6" height="3.5" fill="#ff4500"/>
<rect x="341.9" y="251.9" width="181.6" height="3.9" fill="#ff4500"/>
<line x1="341.9" y1="27" x2="341.9" y2="406.85" stroke="#808080" stroke-width="1.8"/>
<line x1="341.9" y1="32.6" x2="507.69" y2="32.6" stroke="#808080" stroke-width="1.8"/>
<line x1="341.9" y1="27" x2="341.9" y2="32.6" stroke="#222" stroke-width="1"/>
<line x1="352.95" y1="30.2" x2="352.95" y2="32.6" stroke="#222" stroke-width="1"/>
<line x1="364.01" y1="30.2" x2="364.01" y2="32.6" stroke="#222" stroke-width="1"/>
<line x1="375.06" y1="30.2" x2="375.06" y2="32.6" stroke="#222" stroke-width="1"/>
<line x1="386.11" y1="30.2" x2="386.11" y2="32.6" stroke="#222" stroke-width="1"/>
<line x1="397.16" y1="27" x2="397.16" y2="32.6" stroke="#222" stroke-width="1"/>
<line x1="408.22" y1="30.2" x2="408.22" y2="32.6" stroke="#222" stroke-width="1"/>
<line x1="419.27" y1="30.2" x2="419.27" y2="32.6" stroke="#222" stroke-width="1"/>
<line x1="430.32" y1="30.2" x2="430.32" y2="32.6" stroke="#222" stroke-width="1"/>
<line x1="441.38" y1="30.2" x2="441.38" y2="32.6" stroke="#222" stroke-width="1"/>
<line x1="452.43" y1="27" x2="452.43" y2="32.6" stroke="#222" stroke-width="1"/>
<line x1="463.48" y1="30.2" x2="463.48" y2="32.6" stroke="#222" stroke-width="1"/>
<line x1="474.54" y1="30.2" x2="474.54" y2="32.6" stroke="#222" stroke-width="1"/>
<line x1="485.59" y1="30.2" x2="485.59" y2="32.6" stroke="#222" stroke-width="1"/>
<line x1="496.64" y1="30.2" x2="496.64" y2="32.6" stroke="#222" stroke-width="1"/>
<line x1="507.69" y1="27" x2="507.69" y2="32.6" stroke="#222" stroke-width="1"/>
<line x1="336" y1="32.6" x2="341.9" y2="32.6" stroke="#222" stroke-width="1"/>
<line x1="339.3" y1="47.57" x2="341.9" y2="47.57" stroke="#222" stroke-width="1"/>
<line x1="339.3" y1="62.54" x2="341.9" y2="62.54" stroke="#222" stroke-width="1"/>
<line x1="339.3" y1="77.51" x2="341.9" y2="77.51" stroke="#222" stroke-width="1"/>
<line x1="339.3" y1="92.48" x2="341.9" y2="92.48" stroke="#222" stroke-width="1"/>
<line x1="336" y1="107.45" x2="341.9" y2="107.45" stroke="#222" stroke-width="1"/>
<line x1="339.3" y1="122.42" x2="341.9" y2="122.42" stroke="#222" stroke-width="1"/>
<line x1="339.3" y1="137.39" x2="341.9" y2="137.39" stroke="#222" stroke-width="1"/>
<line x1="339.3" y1="152.36" x2="341.9" y2="152.36" stroke="#222" stroke-width="1"/>
<line x1="339.3" y1="167.33" x2="341.9" y2="167.33" stroke="#222" stroke-width="1"/>
<line x1="336" y1="182.3" x2="341.9" y2="182.3" stroke="#222" stroke-width="1"/>
<line x1="339.3" y1="197.27" x2="341.9" y2="197.27" stroke="#222" stroke-width="1"/>
<line x1="339.3" y1="212.24" x2="341.9" y2="212.24" stroke="#222" stroke-width="1"/>
<line x1="339.3" y1="227.21" x2="341.9" y2="227.21" stroke="#222" stroke-width="1"/>
<line x1="339.3" y1="242.18" x2="341.9" y2="242.18" stroke="#222" stroke-width="1"/>
<line x1="336" y1="257.15" x2="341.9" y2="257.15" stroke="#222" stroke-width="1"/>
<line x1="339.3" y1="272.12" x2="341.9" y2="272.12" stroke="#222" stroke-width="1"/>
<line x1="339.3" y1="287.09" x2="341.9" y2="287.09" stroke="#222" stroke-width="1"/>
<line x1="339.3" y1="302.06" x2="341.9" y2="302.06" stroke="#222" stroke-width="1"/>
<line x1="339.3" y1="317.03" x2="341.9" y2="317.03" stroke="#222" stroke-width="1"/>
<line x1="336" y1="332" x2="341.9" y2="332" stroke="#222" stroke-width="1"/>
<line x1="339.3" y1="346.97" x2="341.9" y2="346.97" stroke="#222" stroke-width="1"/>
<line x1="339.3" y1="361.94" x2="341.9" y2="361.94" stroke="#222" stroke-width="1"/>
<line x1="339.3" y1="376.91" x2="341.9" y2="376.91" stroke="#222" stroke-width="1"/>
<line x1="339.3" y1="391.88" x2="341.9" y2="391.88" stroke="#222" stroke-width="1"/>
<line x1="336" y1="406.85" x2="341.9" y2="406.85" stroke="#222" stroke-width="1"/>
<text x="340.4" y="25.6" font-size="12" text-anchor="middle" fill="#000">0</text>
<text x="395.66" y="25.6" font-size="12" text-anchor="middle" fill="#000">50</text>
<text x="450.93" y="25.6" font-size="12" text-anchor="middle" fill="#000">100</text>
<text x="506.19" y="25.6" font-size="12" text-anchor="middle" fill="#000">150</text>
<text x="332.6" y="35.4" font-size="12" text-anchor="end" fill="#000">40</text>
<text x="332.6" y="110.25" font-size="12" text-anchor="end" fill="#000">45</text>
<text x="332.6" y="185.1" font-size="12" text-anchor="end" fill="#000">50</text>
<text x="332.6" y="259.95" font-size="12" text-anchor="end" fill="#000">55</text>
<text x="332.6" y="334.8" font-size="12" text-anchor="end" fill="#000">60</text>
<text x="332.6" y="409.65" font-size="12" text-anchor="end" fill="#000">65</text>
<text x="527.5" y="138.9" font-size="10.6" text-anchor="start" fill="#d03434">Phase V</text>
<text x="527.5" y="167" font-size="10.6" text-anchor="start" fill="#d03434">Phase IV</text>
<text x="527.5" y="230.8" font-size="10.6" text-anchor="start" fill="#d03434">Phase III</text>
<text x="527.5" y="248.9" font-size="10.6" text-anchor="start" fill="#d03434">Phase II</text>
<text x="527.5" y="258.6" font-size="10.6" text-anchor="start" fill="#d03434">Phase I</text>
<text x="261.6" y="154" font-size="11" text-anchor="start" fill="#d03434">(46.9-46.6 Ma)</text>
<text x="262.1" y="174.9" font-size="11" text-anchor="start" fill="#d03434">(49-48.6 Ma)</text>
<text x="260.3" y="218.4" font-size="11" text-anchor="start" fill="#d03434">(53.8-52.1 Ma)</text>
<text x="260.3" y="231.6" font-size="11" text-anchor="start" fill="#d03434">(54.6 Ma)</text>
<text x="260.3" y="240.8" font-size="11" text-anchor="start" fill="#d03434">(54.8 Ma)</text>
<line x1="248" y1="146.6" x2="258.6" y2="146.6" stroke="#e23c1c" stroke-width="1.2"/>
<polygon points="242.8,146.6 250.5,144.9 249,146.6 250.5,148.3" fill="#e23c1c"/>
<line x1="248" y1="170.8" x2="258.6" y2="170.8" stroke="#e23c1c" stroke-width="1.2"/>
<polygon points="242.8,170.8 250.5,169.1 249,170.8 250.5,172.5" fill="#e23c1c"/>
<line x1="248" y1="214.7" x2="258.6" y2="214.7" stroke="#e23c1c" stroke-width="1.2"/>
<polygon points="242.8,214.7 250.5,213 249,214.7 250.5,216.4" fill="#e23c1c"/>
<line x1="248" y1="229" x2="258.6" y2="229" stroke="#e23c1c" stroke-width="1.2"/>
<polygon points="242.8,229 250.5,227.3 249,229 250.5,230.7" fill="#e23c1c"/>
<line x1="248" y1="235.2" x2="258.6" y2="235.2" stroke="#e23c1c" stroke-width="1.2"/>
<polygon points="242.8,235.2 250.5,233.5 249,235.2 250.5,236.9" fill="#e23c1c"/>
<polyline points="240.5,143.5 315.7,143.5 341.9,133.3" fill="none" stroke="#dc5a26" stroke-width="1.1" stroke-linejoin="round" stroke-dasharray="4.5,1.8"/>
<polyline points="240,235.5 262.5,243.5 313.9,243.5 341.9,253.8" fill="none" stroke="#dc5a26" stroke-width="1.1" stroke-linejoin="round" stroke-dasharray="4.5,1.8"/>
<text x="439.3" y="60" font-size="13.5" text-anchor="start" fill="#000">Kominz et al.</text>
<text x="439.3" y="74.9" font-size="13.5" text-anchor="start" fill="#000">(2008)</text>
<line x1="444.9" y1="96" x2="458.5" y2="84.6" stroke="#101030" stroke-width="0.9"/>
<polygon points="463,81.1 454.3,83.2 457.9,84.9 459.8,86.7" fill="#1a1a70"/>
<polyline points="396,32.7 391.3,34 388.6,36.7 387.7,40.1 389.3,43.5 390.4,45.9 381.9,47.3 390.6,46.9 394.7,47.9 411.5,51.3 414.2,53.6 416.2,58.3 418.7,64.8 417.3,67.5 414.2,68 410.6,69.4" fill="none" stroke="#000" stroke-width="1.45" stroke-linejoin="round"/>
<polyline points="391.3,74.8 397.1,78.3 400.3,77.2 402.5,77.9 406.1,81.2 415,80.3 419.7,80.5 428.4,90.8 438.3,88.4 443,96.25 444.8,98 438.3,98.6 445.3,98.6 473.3,100.1 477.4,104.1 467.5,103.3" fill="none" stroke="#000" stroke-width="1.45" stroke-linejoin="round"/>
<polyline points="445.3,138.7 457.3,143.3 462.7,153.7 450,156.9 468.7,160 491.3,161.3 471.3,162.7" fill="none" stroke="#000" stroke-width="1.45" stroke-linejoin="round"/>
<polyline points="448.6,173.8 472.2,173.1 452,177.1 437.1,177.4 442.5,180.9 445.2,186.6 438.5,190.6 443.9,194 452,201.4 458.7,204.8 464.8,210.8 471.5,212.2 461,213 466,215 475,221 483,226 489,231.5 494,233.5 504,235.2" fill="none" stroke="#000" stroke-width="1.45" stroke-linejoin="round"/>
<polyline points="439,238.9 439.4,244.4 444.9,242.9 452.4,243.6 452,249.2 445.7,249.8 440.2,249.5 442.6,251.9 449.7,262.9 455.2,265.7 430.2,257.25 419.7,250.25 414.4,253.2 411.5,259.6 391.7,266 407.4,270.1 408,274.2 404.5,277.1 402.75,280 407.5,281.7 415.3,290.1 417.6,294.6 421,297.4 433.3,299.7 421,300.8 418.1,302.5 412.5,307 405.8,307 398.5,309.4 398.5,314.8" fill="none" stroke="#000" stroke-width="1.45" stroke-linejoin="round"/>
<polyline points="420.3,324.3 423.8,329 425,332.5 424.4,334.8" fill="none" stroke="#000" stroke-width="1.45" stroke-linejoin="round"/>
<polyline points="430.8,344.2 433.2,346.5 430.25,351.2 436.7,352.3 441.1,357.2" fill="none" stroke="#000" stroke-width="1.45" stroke-linejoin="round"/>
<polyline points="398.2,362.4 401.2,367.8 405.5,373.6" fill="none" stroke="#000" stroke-width="1.45" stroke-linejoin="round"/>
<polyline points="405.2,394.4 408.6,398.1 417.4,397.5 411.3,402.2 430.8,406.9" fill="none" stroke="#000" stroke-width="1.45" stroke-linejoin="round"/>
<rect x="1.8" y="421.5" width="25.5" height="11.3" fill="#fff"/>
<line x1="1.8" y1="424.2" x2="27.3" y2="424.2" stroke="#666" stroke-width="0.9"/>
<line x1="1.8" y1="426.5" x2="27.3" y2="426.5" stroke="#666" stroke-width="0.9"/>
<line x1="1.8" y1="428.5" x2="27.3" y2="428.5" stroke="#666" stroke-width="0.9"/>
<line x1="1.8" y1="430.7" x2="27.3" y2="430.7" stroke="#666" stroke-width="0.9"/>
<rect x="1.8" y="421.5" width="25.5" height="11.3" fill="none" stroke="#000" stroke-width="1"/>
<text x="30" y="431.7" font-size="12" text-anchor="start" fill="#000">Mudstone</text>
<rect x="90.2" y="421.5" width="26.6" height="11.3" fill="#fff"/>
<line x1="92.2" y1="423.6" x2="97.2" y2="423.6" stroke="#888" stroke-width="0.9"/>
<line x1="101.2" y1="423.6" x2="106.2" y2="423.6" stroke="#888" stroke-width="0.9"/>
<line x1="110.2" y1="423.6" x2="115.2" y2="423.6" stroke="#888" stroke-width="0.9"/>
<line x1="92.2" y1="427.4" x2="97.2" y2="427.4" stroke="#888" stroke-width="0.9"/>
<line x1="101.2" y1="427.4" x2="106.2" y2="427.4" stroke="#888" stroke-width="0.9"/>
<line x1="110.2" y1="427.4" x2="115.2" y2="427.4" stroke="#888" stroke-width="0.9"/>
<line x1="92.2" y1="430.4" x2="97.2" y2="430.4" stroke="#888" stroke-width="0.9"/>
<line x1="101.2" y1="430.4" x2="106.2" y2="430.4" stroke="#888" stroke-width="0.9"/>
<line x1="110.2" y1="430.4" x2="115.2" y2="430.4" stroke="#888" stroke-width="0.9"/>
<line x1="90.2" y1="425.2" x2="116.8" y2="425.2" stroke="#aaa" stroke-width="0.7"/>
<line x1="90.2" y1="428.8" x2="116.8" y2="428.8" stroke="#aaa" stroke-width="0.7"/>
<rect x="90.2" y="421.5" width="26.6" height="11.3" fill="none" stroke="#000" stroke-width="1"/>
<text x="119.7" y="431.7" font-size="12" text-anchor="start" fill="#000">Siltstone</text>
<circle cx="178.3" cy="423.8" r="0.6" fill="#111"/>
<circle cx="184" cy="424" r="0.6" fill="#111"/>
<circle cx="189.3" cy="423.8" r="0.6" fill="#111"/>
<circle cx="195" cy="424" r="0.6" fill="#111"/>
<circle cx="181.3" cy="427.3" r="0.6" fill="#111"/>
<circle cx="187" cy="427.3" r="0.6" fill="#111"/>
<circle cx="192.3" cy="427.3" r="0.6" fill="#111"/>
<circle cx="197.7" cy="427.3" r="0.6" fill="#111"/>
<circle cx="177.3" cy="430.7" r="0.6" fill="#111"/>
<circle cx="184" cy="430.7" r="0.6" fill="#111"/>
<circle cx="190.3" cy="430.4" r="0.6" fill="#111"/>
<circle cx="195.3" cy="430.7" r="0.6" fill="#111"/>
<rect x="174.4" y="421.5" width="26.6" height="11.3" fill="none" stroke="#000" stroke-width="1"/>
<text x="204.5" y="431.7" font-size="12" text-anchor="start" fill="#000">Sandstone</text>
<line x1="265.4" y1="425.6" x2="293.2" y2="425.6" stroke="#444" stroke-width="0.8"/>
<line x1="265.4" y1="429.2" x2="293.2" y2="429.2" stroke="#444" stroke-width="0.8"/>
<line x1="275.3" y1="421.5" x2="275.3" y2="432.8" stroke="#aaa" stroke-width="0.7"/>
<line x1="282" y1="421.5" x2="282" y2="432.8" stroke="#aaa" stroke-width="0.7"/>
<line x1="288.3" y1="421.5" x2="288.3" y2="432.8" stroke="#aaa" stroke-width="0.7"/>
<circle cx="269.5" cy="423.5" r="0.9" fill="none" stroke="#555" stroke-width="0.6"/>
<circle cx="275.8" cy="423.5" r="0.9" fill="none" stroke="#555" stroke-width="0.6"/>
<circle cx="282.2" cy="423.5" r="0.9" fill="none" stroke="#555" stroke-width="0.6"/>
<circle cx="288.5" cy="423.5" r="0.9" fill="none" stroke="#555" stroke-width="0.6"/>
<circle cx="269.5" cy="427.4" r="0.9" fill="none" stroke="#555" stroke-width="0.6"/>
<circle cx="275.8" cy="427.4" r="0.9" fill="none" stroke="#555" stroke-width="0.6"/>
<circle cx="282.2" cy="427.4" r="0.9" fill="none" stroke="#555" stroke-width="0.6"/>
<circle cx="288.5" cy="427.4" r="0.9" fill="none" stroke="#555" stroke-width="0.6"/>
<circle cx="269.5" cy="431.6" r="0.7" fill="#000"/>
<circle cx="275.8" cy="431.6" r="0.7" fill="#000"/>
<circle cx="282.2" cy="431.6" r="0.7" fill="#000"/>
<circle cx="288.5" cy="431.6" r="0.7" fill="#000"/>
<rect x="265.4" y="421.5" width="27.8" height="11.3" fill="none" stroke="#000" stroke-width="1"/>
<text x="296" y="431.7" font-size="12" text-anchor="start" fill="#000">Gravels</text>
<rect x="346.8" y="420.3" width="27.3" height="11.6" fill="#e8521e"/>
<line x1="346.8" y1="424.17" x2="374.1" y2="424.17" stroke="#000" stroke-width="0.9"/>
<line x1="346.8" y1="428.03" x2="374.1" y2="428.03" stroke="#000" stroke-width="0.9"/>
<line x1="351.8" y1="420.3" x2="351.8" y2="424.17" stroke="#000" stroke-width="0.9"/>
<line x1="360.3" y1="420.3" x2="360.3" y2="424.17" stroke="#000" stroke-width="0.9"/>
<line x1="368.8" y1="420.3" x2="368.8" y2="424.17" stroke="#000" stroke-width="0.9"/>
<line x1="356.05" y1="424.17" x2="356.05" y2="428.03" stroke="#000" stroke-width="0.9"/>
<line x1="364.55" y1="424.17" x2="364.55" y2="428.03" stroke="#000" stroke-width="0.9"/>
<line x1="373.05" y1="424.17" x2="373.05" y2="428.03" stroke="#000" stroke-width="0.9"/>
<line x1="351.8" y1="428.03" x2="351.8" y2="431.9" stroke="#000" stroke-width="0.9"/>
<line x1="360.3" y1="428.03" x2="360.3" y2="431.9" stroke="#000" stroke-width="0.9"/>
<line x1="368.8" y1="428.03" x2="368.8" y2="431.9" stroke="#000" stroke-width="0.9"/>
<rect x="346.8" y="420.3" width="27.3" height="11.6" fill="none" stroke="#000" stroke-width="1"/>
<text x="377.3" y="431.7" font-size="12" text-anchor="start" fill="#000">Limestone</text>
<rect x="439.3" y="421.5" width="26.6" height="11.3" fill="none" stroke="#000" stroke-width="1"/>
<line x1="442.3" y1="422" x2="447.3" y2="425.7" stroke="#111" stroke-width="0.8"/>
<line x1="444.3" y1="421.8" x2="448.8" y2="425.2" stroke="#111" stroke-width="0.8"/>
<line x1="445.7" y1="432.2" x2="448.3" y2="428.3" stroke="#111" stroke-width="0.8"/>
<line x1="448" y1="432.3" x2="450.6" y2="428.4" stroke="#111" stroke-width="0.8"/>
<line x1="455" y1="425.7" x2="458" y2="422" stroke="#111" stroke-width="0.8"/>
<line x1="457.7" y1="425.8" x2="460.7" y2="422" stroke="#111" stroke-width="0.8"/>
<line x1="460.7" y1="427.3" x2="463.2" y2="432" stroke="#111" stroke-width="0.8"/>
<line x1="462.3" y1="427.1" x2="464.8" y2="431.8" stroke="#111" stroke-width="0.8"/>
<text x="469.3" y="431.7" font-size="12" text-anchor="start" fill="#000">Gypsum</text>
</svg>
</body></html>
